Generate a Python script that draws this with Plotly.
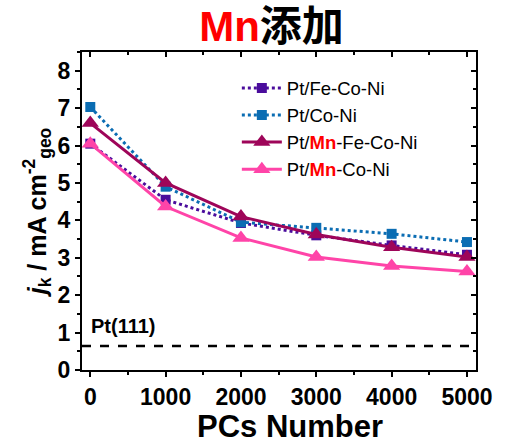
import plotly.graph_objects as go

pcs = [0, 1000, 2000, 3000, 4000, 5000]
fe_co_ni = [6.05, 4.55, 3.93, 3.6, 3.33, 3.08]
co_ni = [7.03, 4.9, 3.95, 3.8, 3.64, 3.42]
mn_fe_co_ni = [6.6, 5.0, 4.1, 3.62, 3.28, 3.02]
mn_co_ni = [6.05, 4.37, 3.53, 3.02, 2.78, 2.63]
pt111 = 0.64

names = [
    "Pt/Fe-Co-Ni",
    "Pt/Co-Ni",
    "Pt/<b><span style='color:#FF0000'>Mn</span></b>-Fe-Co-Ni",
    "Pt/<b><span style='color:#FF0000'>Mn</span></b>-Co-Ni",
]
colors = ["#4A0C9C", "#0B6DB3", "#9E0559", "#FF44A8"]

fig = go.Figure()
fig.add_trace(go.Scatter(x=pcs, y=fe_co_ni, name=names[0], mode="lines+markers",
                         line=dict(color=colors[0], width=3, dash="dot"),
                         marker=dict(symbol="square", size=10, color=colors[0])))
fig.add_trace(go.Scatter(x=pcs, y=co_ni, name=names[1], mode="lines+markers",
                         line=dict(color=colors[1], width=3, dash="dot"),
                         marker=dict(symbol="square", size=10, color=colors[1])))
fig.add_trace(go.Scatter(x=pcs, y=mn_fe_co_ni, name=names[2], mode="lines+markers",
                         line=dict(color=colors[2], width=3),
                         marker=dict(symbol="triangle-up", size=15, color=colors[2])))
fig.add_trace(go.Scatter(x=pcs, y=mn_co_ni, name=names[3], mode="lines+markers",
                         line=dict(color=colors[3], width=3),
                         marker=dict(symbol="triangle-up", size=15, color=colors[3])))

xr = [-110, 5120]
yr = [0, 8.5]

fig.add_shape(type="line", xref="x", yref="y", x0=xr[0], x1=xr[1], y0=pt111, y1=pt111,
              line=dict(color="black", width=2.5, dash="dash"))
fig.add_annotation(x=-20, y=1.17, xref="x", yref="y", text="<b>Pt(111)</b>", showarrow=False,
                   xanchor="left",
                   font=dict(size=20, color="black", family="Liberation Sans, Arial", weight="bold"))
fig.add_annotation(x=0.528, y=-0.238, xref="paper", yref="paper", text="<b>PCs Number</b>",
                   showarrow=False, xanchor="center", yanchor="bottom",
                   font=dict(size=31, color="black", family="Liberation Sans, Arial", weight="bold"))

axfont = dict(family="Liberation Sans, Arial", size=23, color="black", weight="bold")
common = dict(showline=True, linecolor="black", linewidth=2, showgrid=False, zeroline=False,
              tickwidth=2, ticklen=5, tickcolor="black")

fig.update_layout(
    width=507, height=446,
    margin=dict(l=82, r=31, t=52, b=76),
    paper_bgcolor="white", plot_bgcolor="white",
    title=dict(text="<span style='color:#FF0000'>Mn</span>添加", x=0.5355, xanchor="center",
               y=0.94, yanchor="middle",
               font=dict(family="Liberation Sans, Noto Sans CJK SC", size=42, color="black",
                         weight="bold")),
    xaxis=dict(range=xr, tickvals=pcs, ticks="outside", tickfont=axfont,
               minor=dict(ticks="outside", dtick=500, tick0=0, ticklen=3, tickwidth=2, tickcolor="black"),
               **common),
    yaxis=dict(range=yr, tickvals=list(range(0, 9)), ticks="outside", tickfont=axfont,
               minor=dict(ticks="outside", dtick=0.5, tick0=0, ticklen=3, tickwidth=2, tickcolor="black"),
               title=dict(text="<i>j</i><sub>k</sub> / mA cm<sup>-2</sup><sub>geo</sub>", standoff=4,
                          font=dict(family="Liberation Sans, Arial", size=25, color="black",
                                    weight="bold")),
               **common),
    xaxis2=dict(range=xr, overlaying="x", side="top", tickvals=pcs, ticks="inside",
                showticklabels=False, matches="x",
                minor=dict(ticks="inside", dtick=500, tick0=0, ticklen=3, tickwidth=2, tickcolor="black"),
                **common),
    yaxis2=dict(range=yr, overlaying="y", side="right", tickvals=list(range(0, 9)), ticks="inside",
                showticklabels=False, matches="y",
                minor=dict(ticks="inside", dtick=0.5, tick0=0, ticklen=3, tickwidth=2, tickcolor="black"),
                **common),
    legend=dict(x=0.393, y=0.945, xanchor="left", yanchor="top", bgcolor="rgba(0,0,0,0)",
                font=dict(family="Liberation Sans, Arial", size=18.5, color="black"),
                tracegroupgap=0, itemwidth=40),
    showlegend=True,
)
fig.add_trace(go.Scatter(x=[None], y=[None], xaxis="x2", yaxis="y2", showlegend=False, hoverinfo="skip"))

fig.write_html("out.html")
